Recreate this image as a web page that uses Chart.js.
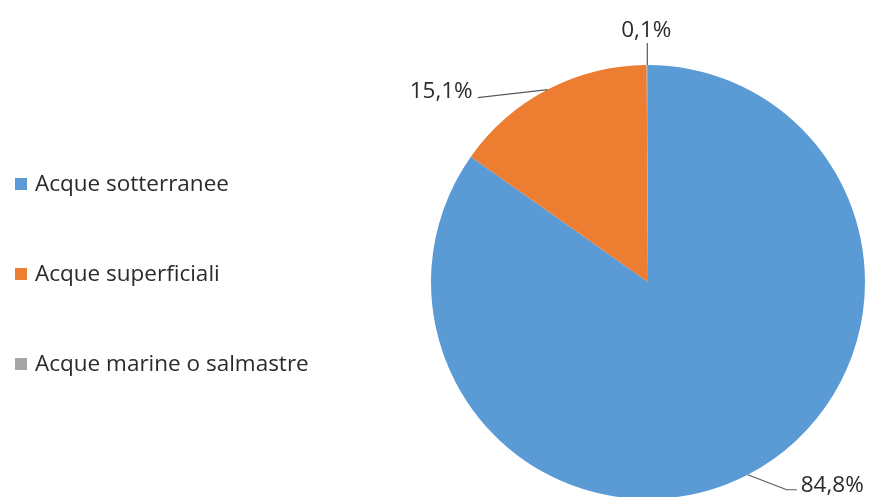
<!DOCTYPE html>
<html>
<head>
<meta charset="utf-8">
<script src="https://cdn.jsdelivr.net/npm/chart.js@4.4.0/dist/chart.umd.min.js"></script>
<style>
  html, body { margin: 0; padding: 0; background: #ffffff; overflow: hidden; }
  #wrap { position: relative; width: 869px; height: 500px; }
</style>
</head>
<body>
<div id="wrap"><canvas id="pieChart" width="869" height="500"></canvas></div>
<script>
const categories = ['Acque sotterranee', 'Acque superficiali', 'Acque marine o salmastre'];
const shares = [84.8, 15.1, 0.1];
const sliceColors = ['#5B9BD5', '#ED7D31', '#A5A5A5'];

const FONT = '"Open Sans", "Liberation Sans", Arial, sans-serif';
const TEXT_COLOR = '#2b2b2b';

// leader lines: elbow, line end and text anchor, relative to the slice's mid point on the arc
const labelLayout = [
    { elbow: [39, 15], end: [49, 15], text: [53, 17], align: 'left' },
    { elbow: [-70, 8], end: [-70, 8], text: [-75, 8.5], align: 'right' },
    { elbow: [0, -22], end: [0, -22], text: [-1, -28], align: 'center' }
];

function fmt(v) {
    return v.toFixed(1).replace('.', ',') + '%';
}

const pieLabels = {
    id: 'pieLabels',
    afterDraw(chart) {
        const ctx = chart.ctx;
        const arcs = chart.getDatasetMeta(0).data;
        ctx.save();
        arcs.forEach((arc, i) => {
            const mid = (arc.startAngle + arc.endAngle) / 2;
            const px = arc.x + Math.cos(mid) * arc.outerRadius;
            const py = arc.y + Math.sin(mid) * arc.outerRadius;
            const l = labelLayout[i];
            ctx.strokeStyle = '#595959';
            ctx.lineWidth = 1.2;
            ctx.beginPath();
            ctx.moveTo(px, py);
            ctx.lineTo(px + l.elbow[0], py + l.elbow[1]);
            ctx.lineTo(px + l.end[0], py + l.end[1]);
            ctx.stroke();
            ctx.fillStyle = TEXT_COLOR;
            ctx.font = '22.5px ' + FONT;
            ctx.textAlign = l.align;
            ctx.textBaseline = 'alphabetic';
            ctx.fillText(fmt(shares[i]), px + l.text[0], py + l.text[1]);
        });

        // legend on the left
        ctx.textAlign = 'left';
        ctx.textBaseline = 'alphabetic';
        ctx.font = '22.5px ' + FONT;
        categories.forEach((name, i) => {
            const y = 184 + i * 90;
            ctx.fillStyle = sliceColors[i];
            ctx.fillRect(15, y - 6, 12, 12);
            ctx.fillStyle = TEXT_COLOR;
            ctx.fillText(name, 35, y + 7);
        });
        ctx.restore();
    }
};

const ctx = document.getElementById('pieChart').getContext('2d');
new Chart(ctx, {
    type: 'pie',
    data: {
        labels: categories,
        datasets: [{
            data: shares,
            backgroundColor: sliceColors,
            borderWidth: 0
        }]
    },
    options: {
        responsive: false,
        animation: false,
        layout: {
            padding: { left: 431, right: 4, top: 65, bottom: 1 }
        },
        plugins: {
            legend: { display: false },
            tooltip: { enabled: false }
        }
    },
    plugins: [pieLabels]
});
</script>
</body>
</html>
